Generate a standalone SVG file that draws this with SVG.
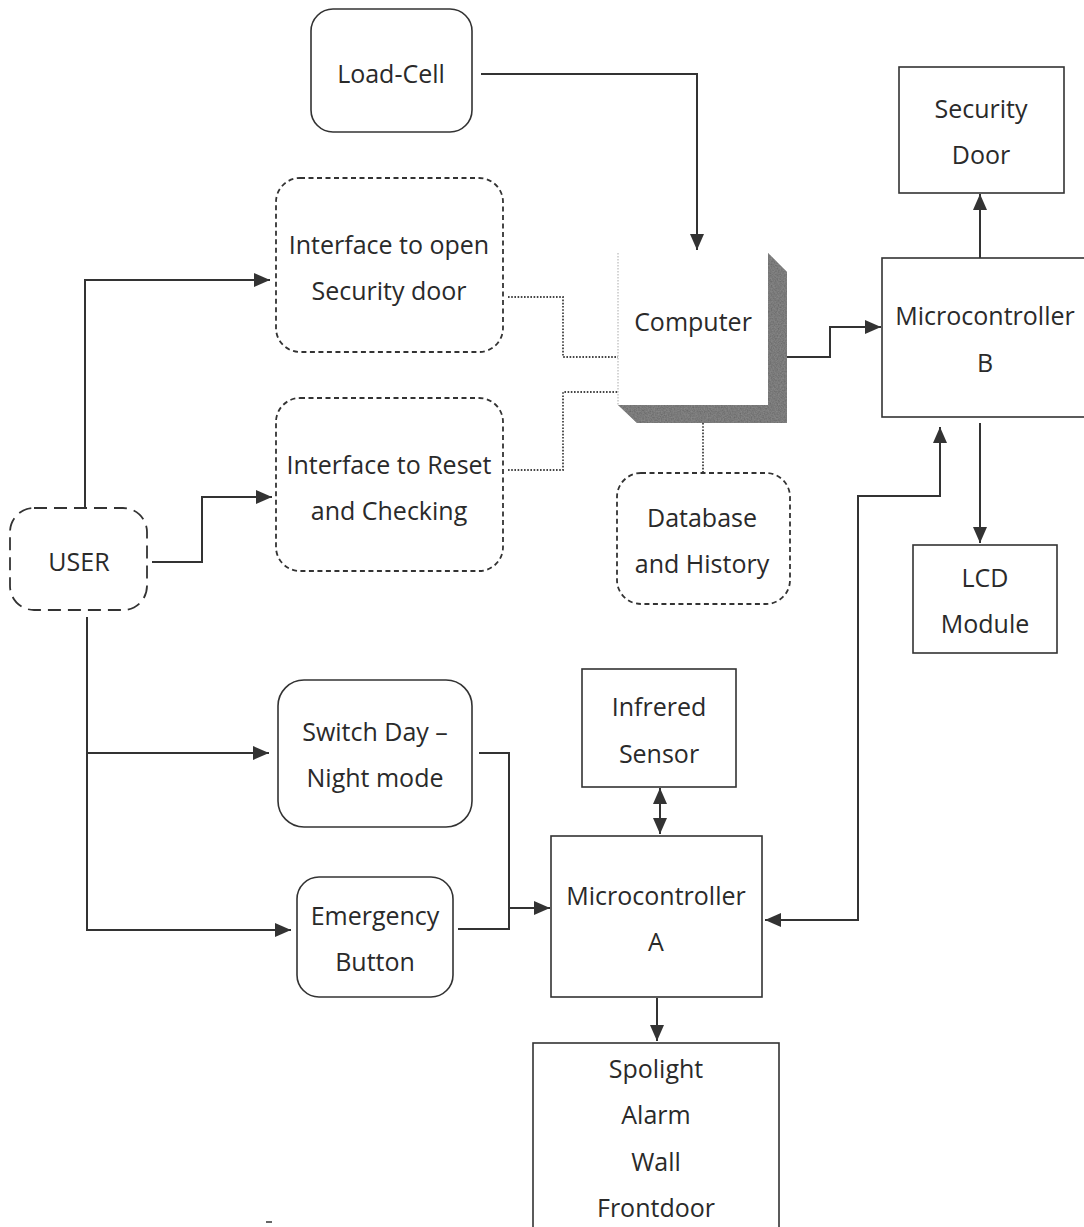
<svg xmlns="http://www.w3.org/2000/svg" width="1084" height="1227" viewBox="0 0 1084 1227">
  <style>
    .box { fill: #fff; stroke: #333; stroke-width: 1.6; }
    .dash { fill: #fff; stroke: #333; stroke-width: 1.8; stroke-dasharray: 5 3.5; }
    .dashlong { fill: #fff; stroke: #333; stroke-width: 1.8; stroke-dasharray: 13 7; }
    .lbl { font-family: "Open Sans", "Noto Sans", "DejaVu Sans", sans-serif; font-size: 25px; fill: #2a2a2a; text-anchor: middle; }
    .wire { fill: none; stroke: #333; stroke-width: 2; }
    .dot { fill: none; stroke: #444; stroke-width: 1.8; stroke-dasharray: 1.6 1.6; }
  </style>
  <defs>
    <marker id="head" viewBox="0 0 16 14" refX="16" refY="7" markerWidth="16" markerHeight="14" markerUnits="userSpaceOnUse" orient="auto-start-reverse">
      <path d="M0,0 L16,7 L0,14 z" fill="#333"/>
    </marker>
    <!-- mottled texture for the computer's shadow -->
    <filter id="grain" x="0" y="0" width="100%" height="100%">
      <feTurbulence type="fractalNoise" baseFrequency="0.7" numOctaves="2" seed="3" result="n"/>
      <feColorMatrix in="n" type="matrix" values="0 0 0 0 0.25  0 0 0 0 0.25  0 0 0 0 0.25  0 0 0 1.4 -0.2" result="g"/>
      <feComposite in="g" in2="SourceGraphic" operator="in" result="gm"/>
      <feMerge><feMergeNode in="SourceGraphic"/><feMergeNode in="gm"/></feMerge>
    </filter>
  </defs>

  <rect width="1084" height="1227" fill="#fff"/>

  <!-- connectors -->
  <g id="connectors">
    <!-- Load-Cell to Computer -->
    <path class="wire" d="M481,74 H697 V250" marker-end="url(#head)"/>
    <!-- USER to interfaces -->
    <path class="wire" d="M85,508 V280 H270" marker-end="url(#head)"/>
    <path class="wire" d="M152,562 H202 V497 H272" marker-end="url(#head)"/>
    <!-- USER to switches -->
    <path class="wire" d="M87,617 V930 H291" marker-end="url(#head)"/>
    <path class="wire" d="M87,753 H269" marker-end="url(#head)"/>
    <!-- switches to Microcontroller A -->
    <path class="wire" d="M479,753 H509 V929 H458"/>
    <path class="wire" d="M509,908 H550" marker-end="url(#head)"/>
    <!-- Infrared sensor <-> A -->
    <path class="wire" d="M660,788 V834" marker-start="url(#head)" marker-end="url(#head)"/>
    <!-- A to outputs -->
    <path class="wire" d="M657,998 V1041" marker-end="url(#head)"/>
    <!-- A <-> B -->
    <path class="wire" d="M940,427 V496 H858 V920 H765" marker-start="url(#head)" marker-end="url(#head)"/>
    <!-- Computer to B -->
    <path class="wire" d="M787,357 H830 V327 H881" marker-end="url(#head)"/>
    <!-- B to Security Door -->
    <path class="wire" d="M980,258 V194" marker-end="url(#head)"/>
    <!-- B to LCD -->
    <path class="wire" d="M980,423 V543" marker-end="url(#head)"/>
    <!-- dotted software links -->
    <path class="dot" d="M508,297 H563 V357 H618"/>
    <path class="dot" d="M508,470 H563 V392 H618"/>
    <path class="dot" d="M703,423 V473"/>
  </g>

  <g id="load-cell">
    <rect class="box" x="311" y="9" width="161" height="123" rx="22"/>
    <text class="lbl" x="391" y="83">Load-Cell</text>
  </g>

  <g id="interface-open">
    <rect class="dash" x="276" y="178" width="227" height="174" rx="24"/>
    <text class="lbl" x="389" y="254">Interface to open</text>
    <text class="lbl" x="389" y="300">Security door</text>
  </g>

  <g id="interface-reset">
    <rect class="dash" x="276" y="398" width="227" height="173" rx="24"/>
    <text class="lbl" x="389" y="474">Interface to Reset</text>
    <text class="lbl" x="389" y="520">and Checking</text>
  </g>

  <g id="user">
    <rect class="dashlong" x="10" y="508" width="137" height="102" rx="24"/>
    <text class="lbl" x="79" y="571">USER</text>
  </g>

  <g id="computer">
    <polygon points="768,253 787,272 787,423 637,423 618,405 768,405" fill="#6a6a6a" filter="url(#grain)"/>
    <rect x="618" y="253" width="150" height="152" fill="#fff"/>
    <path d="M618,253 V405" stroke="#aaa" stroke-width="1" stroke-dasharray="1.5 1.5"/>
    <text class="lbl" x="693" y="331">Computer</text>
  </g>

  <g id="database">
    <rect class="dash" x="617" y="473" width="173" height="131" rx="24"/>
    <text class="lbl" x="702" y="527">Database</text>
    <text class="lbl" x="702" y="573">and History</text>
  </g>

  <g id="security-door">
    <rect class="box" x="899" y="67" width="165" height="126"/>
    <text class="lbl" x="981" y="118">Security</text>
    <text class="lbl" x="981" y="164">Door</text>
  </g>

  <g id="microcontroller-b">
    <rect class="box" x="882" y="258" width="210" height="159"/>
    <text class="lbl" x="985" y="325">Microcontroller</text>
    <text class="lbl" x="985" y="372">B</text>
  </g>

  <g id="lcd">
    <rect class="box" x="913" y="545" width="144" height="108"/>
    <text class="lbl" x="985" y="587">LCD</text>
    <text class="lbl" x="985" y="633">Module</text>
  </g>

  <g id="switch-day-night">
    <rect class="box" x="278" y="680" width="194" height="147" rx="26"/>
    <text class="lbl" x="375" y="741">Switch Day –</text>
    <text class="lbl" x="375" y="787">Night mode</text>
  </g>

  <g id="emergency">
    <rect class="box" x="297" y="877" width="156" height="120" rx="22"/>
    <text class="lbl" x="375" y="925">Emergency</text>
    <text class="lbl" x="375" y="971">Button</text>
  </g>

  <g id="infrared">
    <rect class="box" x="582" y="669" width="154" height="118"/>
    <text class="lbl" x="659" y="716">Infrered</text>
    <text class="lbl" x="659" y="763">Sensor</text>
  </g>

  <g id="microcontroller-a">
    <rect class="box" x="551" y="836" width="211" height="161"/>
    <text class="lbl" x="656" y="905">Microcontroller</text>
    <text class="lbl" x="656" y="951">A</text>
  </g>

  <g id="outputs">
    <rect class="box" x="533" y="1043" width="246" height="200"/>
    <text class="lbl" x="656" y="1078">Spolight</text>
    <text class="lbl" x="656" y="1124">Alarm</text>
    <text class="lbl" x="656" y="1171">Wall</text>
    <text class="lbl" x="656" y="1217">Frontdoor</text>
  </g>

  <!-- small stray mark near the lower left -->
  <path d="M266,1222 H272" stroke="#333" stroke-width="1.5"/>
</svg>
